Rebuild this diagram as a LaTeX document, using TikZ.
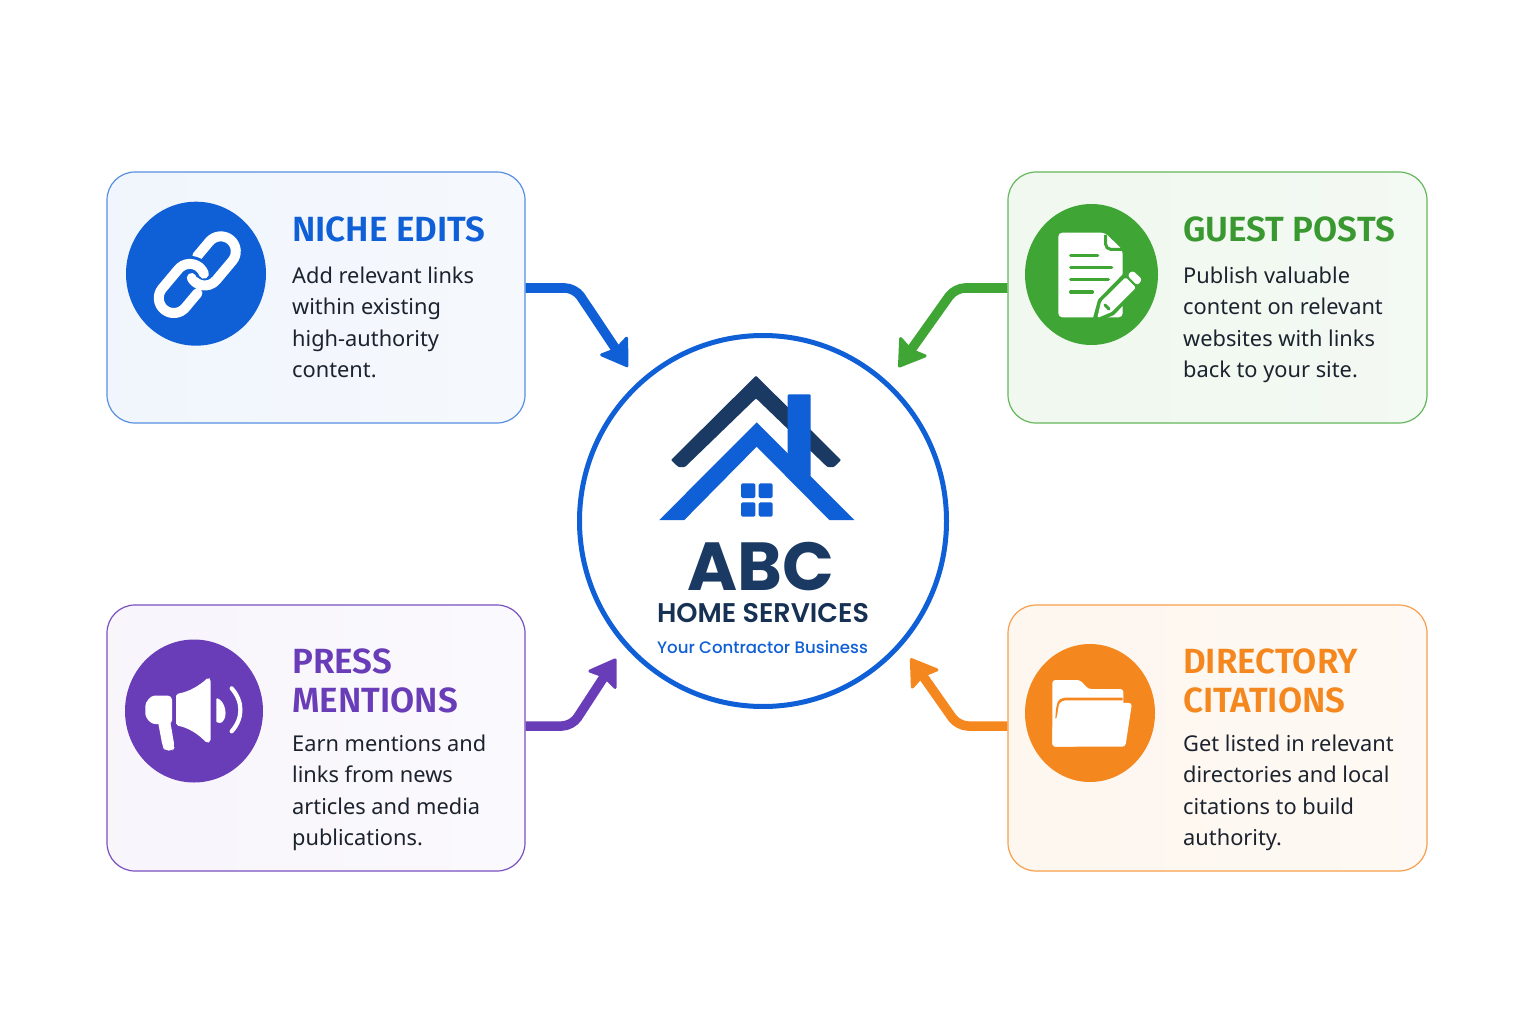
\documentclass[tikz,border=0pt]{standalone}
\usepackage{fontspec}
\usetikzlibrary{arrows.meta,shapes.geometric}
\setmainfont{Noto Sans}
\newfontfamily\titlef{Fira Sans}[BoldFont={* SemiBold}]
\newfontfamily\logof{Poppins}[BoldFont={* Bold}]
\newfontfamily\logos{Poppins}[BoldFont={* SemiBold}]
\newfontfamily\logom{Poppins}[BoldFont={* Medium}]
\definecolor{cblue}{HTML}{0F5FD6}
\definecolor{cgreen}{HTML}{3FA535}
\definecolor{cpurple}{HTML}{6A3DB8}
\definecolor{corange}{HTML}{F5871F}
\definecolor{navy}{HTML}{1B3A63}
\definecolor{ink}{HTML}{1C232E}
\tikzset{
  card/.style={draw,line width=1.2pt,rounded corners=28pt,minimum width=418pt,inner sep=0pt},
  iconbg/.style={ellipse,inner sep=0pt},
  conn/.style={line width=9.5pt,rounded corners=10pt,-{Stealth[length=28pt,width=36pt,inset=4pt,line width=3pt,round]}},
  ttl/.style={anchor=north west,inner sep=0pt,align=left,font=\titlef\bfseries\fontsize{35}{38.5}\selectfont},
  bodytxt/.style={anchor=north west,inner sep=0pt,align=left,text=ink,font=\fontsize{21.8}{31.5}\selectfont},
  logotxt/.style={inner sep=0pt,anchor=base},
  linkstroke/.style={line width=10pt,white,line cap=round,line join=round},
}
\begin{document}
\begin{tikzpicture}[x=1pt,y=-1pt]
\useasboundingbox (0,0) rectangle (1536,1024);
\fill[white] (0,0) rectangle (1536,1024);
% cards
\node[card,draw=cblue!70,left color=cblue!6,right color=cblue!4,minimum height=251pt] (c1) at (316,297.5) {};
\node[card,draw=cgreen!80,left color=cgreen!8,right color=cgreen!6,minimum height=251pt,minimum width=419pt] (c2) at (1217.5,297.5) {};
\node[card,draw=cpurple!90,left color=cpurple!5,right color=cpurple!3,minimum height=266pt] (c3) at (316,738) {};
\node[card,draw=corange!80,left color=corange!7,right color=corange!5,minimum height=266pt,minimum width=419pt] (c4) at (1217.5,738) {};
% hub
\node[ellipse,draw=cblue,line width=5pt,fill=white,minimum width=367pt,minimum height=371pt,inner sep=0pt] (hub) at (763,521) {};
% connectors
\coordinate (b1) at (575,288);
\coordinate (b2) at (955,288);
\coordinate (b3) at (572,726);
\coordinate (b4) at (958,726);
\draw[conn,cblue,shorten >=18pt] ([yshift=9.5pt]c1.east) -- (b1) -- (hub.132);
\draw[conn,cgreen,shorten >=18pt] ([yshift=9.5pt]c2.west) -- (b2) -- (hub.48);
\draw[conn,cpurple,shorten >=15pt] ([yshift=12pt]c3.east) -- (b3) -- (hub.222);
\draw[conn,corange,shorten >=15pt] ([yshift=12pt]c4.west) -- (b4) -- (hub.318);
% house logo
\begin{scope}[shift={(570,330)},x=0.33333pt,y=-0.33333pt]
\fill[navy,rounded corners=1pt] (558,137) -- (813,390) -- (792,411) -- (772,411) -- (558,205) -- (345,411) -- (325,411) -- (303,390) -- cycle;
\fill[cblue] (560,277) -- (853,570) -- (778,570) -- (560,350) -- (343,570) -- (268,570) -- cycle;
\fill[cblue,rounded corners=1pt] (653,193) -- (722,193) -- (722,440) -- (653,372) -- cycle;
\fill[cblue,rounded corners=1.5pt] (513,460) rectangle (556,504);
\fill[cblue,rounded corners=1.5pt] (566,460) rectangle (608,504);
\fill[cblue,rounded corners=1.5pt] (513,517) rectangle (556,560);
\fill[cblue,rounded corners=1.5pt] (566,517) rectangle (608,560);
\end{scope}
\node[logotxt,text=navy,text depth=0pt,font=\logof\bfseries\fontsize{68}{68}\selectfont] (abc) at (760.5,590) {ABC};
\node[logotxt,text=navy!85!black,text height=19pt,text depth=0pt,font=\logos\bfseries\fontsize{27}{28}\selectfont] (hs) at (763,622.5) {HOME SERVICES};
\node[logotxt,text=cblue,font=\logom\bfseries\fontsize{16.6}{17}\selectfont] (tag) at (762.5,653) {Your Contractor Business};
% icon 1
\node[iconbg,fill=cblue,minimum width=140pt,minimum height=144pt] (i1) at (196,273.7) {};
\begin{scope}[shift={(197.3,274.7)},rotate=50]
\draw[linkstroke] (14,-12) -- (33,-12) arc[start angle=-90,end angle=90,radius=15] -- (8,18) arc[start angle=90,end angle=200,radius=15];
\draw[line width=16pt,cblue,line cap=butt] (-33,-18) -- (-8,-18) arc[start angle=-90,end angle=30,radius=15];
\draw[linkstroke] (-14,12) -- (-33,12) arc[start angle=90,end angle=270,radius=15] -- (-8,-18) arc[start angle=-90,end angle=30,radius=15];
\end{scope}
% icon 2
\node[iconbg,fill=cgreen,minimum width=133pt,minimum height=141pt] (i2) at (1091.5,274.5) {};
\begin{scope}[shift={(1010,190)},x=0.33333pt,y=-0.33333pt]
\fill[white,rounded corners=4pt] (145,128) -- (285,128) -- (338,180) -- (338,382) -- (145,382) -- cycle;
\draw[cgreen,line width=3pt,rounded corners=5pt] (287,135) -- (287,178) -- (338,178);
\foreach \yy/\xx in {196/263,232/305,268/295,306/247}
  \draw[cgreen,line width=3.4pt,line cap=round] (182,\yy) -- (\xx,\yy);
\draw[cgreen,line width=8pt,line join=round,fill=cgreen] (262,382) -- (275,335) -- (365,243) -- (395,270) -- (305,365) -- cycle;
\fill[white,rounded corners=1.5pt] (262,384) -- (273,335) -- (347,262) -- (378,293) -- (305,366) -- cycle;
\fill[white,rounded corners=3pt] (352,256) -- (367,241) -- (397,268) -- (382,287) -- cycle;
\draw[cgreen,line width=3pt,line cap=round] (285,345) -- (297,357);
\end{scope}
% icon 3
\node[iconbg,fill=cpurple,minimum width=138pt,minimum height=143pt] (i3) at (194,711) {};
\begin{scope}[shift={(110,630)},x=0.33333pt,y=-0.33333pt]
\fill[white,rounded corners=4pt] (186,197) -- (186,283) -- (143,283) .. controls (120,280) and (106,262) .. (106,240) .. controls (106,215) and (122,197) .. (145,197) -- cycle;
\fill[white,rounded corners=4pt] (143,270) -- (180,270) -- (194,352) -- (188,362) -- (165,362) -- (158,350) -- cycle;
\fill[white,rounded corners=2pt] (198,192) .. controls (240,185) and (270,165) .. (295,142) -- (302,148) -- (302,335) -- (291,340) .. controls (265,312) and (235,293) .. (198,286) -- cycle;
\fill[white,rounded corners=1pt] (319,204) .. controls (345,212) and (357,260) .. (333,279) -- (319,277) -- cycle;
\draw[white,line width=4.2pt,line cap=round] (365,175) .. controls (400,215) and (400,265) .. (365,304);
\end{scope}
% icon 4
\node[iconbg,fill=corange,minimum width=130pt,minimum height=138pt] (i4) at (1090,713) {};
\begin{scope}[shift={(1010,630)},x=0.33333pt,y=-0.33333pt]
\fill[white,rounded corners=3pt] (127,150) -- (210,150) -- (235,177) -- (340,177) -- (340,260) -- (200,350) -- (127,350) -- cycle;
\draw[corange,line width=2.6pt] (338,207) -- (165,207) .. controls (145,207) and (142,225) .. (140,265);
\fill[white,rounded corners=3pt] (148,216) -- (366,219) -- (346,350) -- (127,350) -- (127,290) -- (140,265) -- cycle;
\end{scope}
% texts
\node[ttl,text=cblue] (t1) at (292,217) {NICHE EDITS};
\node[bodytxt] (d1) at (292,266.5) {Add relevant links\\within existing\\high-authority\\content.};
\node[ttl,text=cgreen!92!black] (t2) at (1183,217) {GUEST POSTS};
\node[bodytxt] (d2) at (1183,266.5) {Publish valuable\\content on relevant\\websites with links\\back to your site.};
\node[ttl,text=cpurple] (t3) at (292,649) {PRESS\\MENTIONS};
\node[bodytxt] (d3) at (292,734.5) {Earn mentions and\\links from news\\articles and media\\publications.};
\node[ttl,text=corange] (t4) at (1183,649) {DIRECTORY\\CITATIONS};
\node[bodytxt] (d4) at (1183,734.5) {Get listed in relevant\\directories and local\\citations to build\\authority.};
\end{tikzpicture}
\end{document}
